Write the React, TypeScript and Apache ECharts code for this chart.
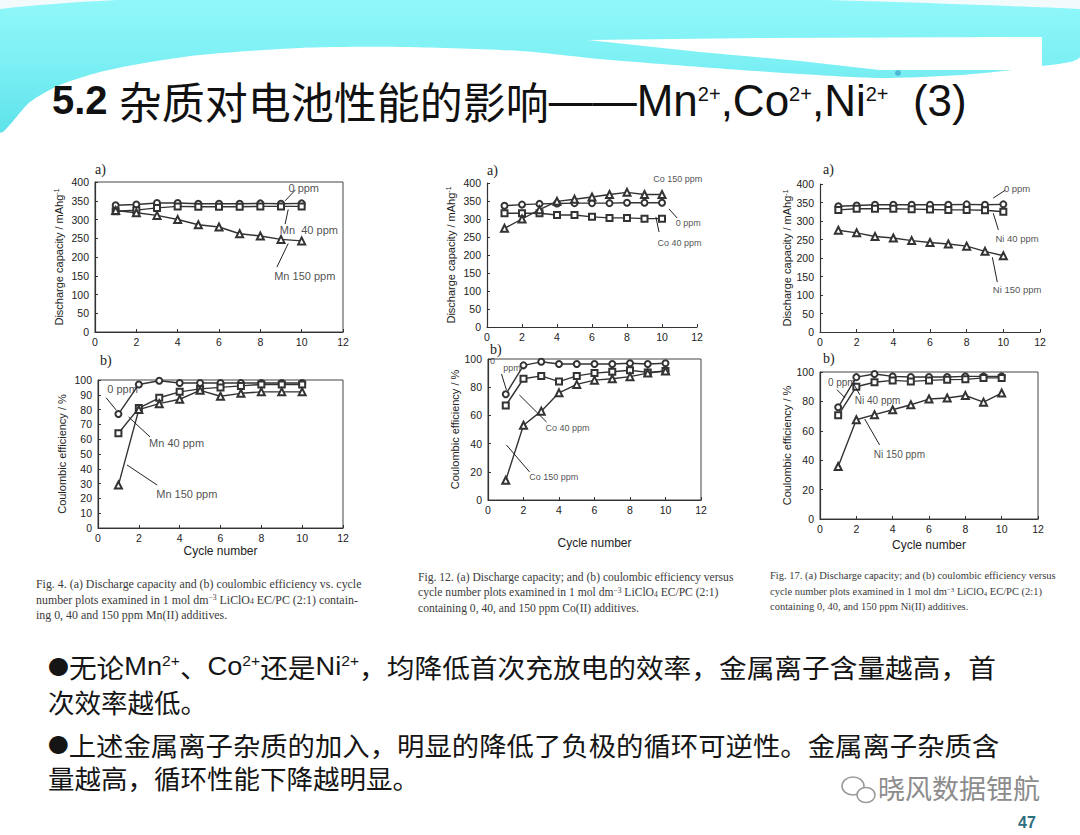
import React, { useEffect, useRef } from "react";
import * as echarts from "echarts";

// ---------- data ----------
const cycles = [1, 2, 3, 4, 5, 6, 7, 8, 9, 10];

// Mn(II)
const mnCap0 = [338, 340, 344, 344, 342, 342, 342, 343, 342, 343];
const mnCap40 = [322, 325, 331, 335, 334, 334, 334, 335, 335, 335];
const mnCap150 = [324, 318, 311, 300, 286, 280, 262, 256, 247, 243];
const mnEff0 = [77, 97, 99.5, 98, 98, 98, 98, 98, 98, 98];
const mnEff40 = [64, 81, 88, 92, 94, 95, 96, 97, 97, 97];
const mnEff150 = [29, 80, 84, 87, 93, 89, 91, 92, 92, 92];

// Co(II)
const coCap0 = [337, 340, 342, 343, 344, 344, 344, 345, 345, 345];
const coCap40 = [316, 316, 316, 311, 311, 306, 303, 303, 301, 301];
const coCap150 = [274, 300, 326, 349, 355, 361, 368, 374, 368, 368];
const coEff0 = [75, 95.5, 98, 96.5, 96.5, 96.5, 96.5, 97, 96.5, 97];
const coEff40 = [67, 86, 88, 84, 88, 90, 91, 92, 90.5, 91.5];
const coEff150 = [14, 53, 63, 76, 82, 85, 86, 87.5, 90, 91.5];

// Ni(II)
const niCap0 = [340, 342, 344, 344, 344, 344, 344, 345, 344, 345];
const niCap40 = [330, 333, 333, 333, 332, 331, 330, 330, 329, 325];
const niCap150 = [275, 268, 258, 254, 247, 242, 238, 232, 218, 206];
const niEff0 = [76, 96.5, 98.6, 97, 96.6, 96.6, 96.6, 97, 97, 97];
const niEff40 = [70.5, 90, 93, 94.3, 93.6, 94.3, 94.8, 95, 96, 96];
const niEff150 = [35.7, 67.5, 71, 74.3, 77.7, 81.6, 82.3, 84, 79.5, 85.7];

// annotations: label text, label centre, arrow tail, arrow head (data coordinates)
type Note = { text: string; at: [number, number]; from?: [number, number]; to?: [number, number]; size?: number };

const mnCapNotes: Note[] = [
  { text: "0 ppm", at: [10.1, 384], from: [9.7, 379], to: [9.2, 350] },
  { text: "Mn  40 ppm", at: [10.35, 272], from: [9.2, 288], to: [9.35, 327] },
  { text: "Mn 150 ppm", at: [10.15, 149], from: [8.8, 173], to: [9.35, 236] },
];
const mnEffNotes: Note[] = [
  { text: "0 ppm", at: [1.2, 94], from: [0.4, 88], to: [0.9, 79.5] },
  { text: "Mn 40 ppm", at: [3.85, 57.4], from: [2.55, 61.5], to: [1.5, 75] },
  { text: "Mn 150 ppm", at: [4.35, 23], from: [2.9, 29], to: [1.42, 42.6] },
];
const coCapNotes: Note[] = [
  { text: "Co 150 ppm", at: [10.9, 411], size: 9 },
  { text: "0 ppm", at: [11.5, 289], from: [10.86, 303], to: [10.4, 328], size: 9 },
  { text: "Co 40 ppm", at: [11.0, 233], from: [9.83, 264], to: [9.65, 306], size: 9 },
];
const coEffNotes: Note[] = [
  { text: "0", at: [0.25, 98.6], size: 9 },
  { text: "ppm", at: [1.35, 93.6], from: [0.76, 89.4], to: [1.04, 78], size: 9 },
  { text: "Co 40 ppm", at: [4.48, 51], from: [3.3, 55.3], to: [1.77, 74.5], size: 9 },
  { text: "Co 150 ppm", at: [3.7, 16.3], from: [2.34, 19.9], to: [1.04, 39], size: 9 },
];
const niCapNotes: Note[] = [
  { text: "0 ppm", at: [10.75, 389], from: [10.1, 383], to: [9.45, 362], size: 9.5 },
  { text: "Ni 40 ppm", at: [10.75, 254], from: [9.73, 276], to: [9.45, 321], size: 9.5 },
  { text: "Ni 150 ppm", at: [10.75, 115], from: [9.67, 135], to: [9.4, 202], size: 9.5 },
];
const niEffNotes: Note[] = [
  { text: "0 ppm", at: [1.2, 92.7], from: [0.93, 88], to: [1.37, 82.5], size: 10 },
  { text: "Ni 40 ppm", at: [3.17, 80.4], from: [2.19, 84.5], to: [1.91, 90.7], size: 10 },
  { text: "Ni 150 ppm", at: [4.37, 43.6], from: [3.28, 50.4], to: [2.46, 68], size: 10 },
];

const capTitle = "Discharge capacity / mAhg{sup|-1}";
const effTitle = "Coulombic efficiency / %";
const xTitle = "Cycle number";

const titleText =
  "{n|5.2 }{c|杂质对电池性能的影响}{l|——Mn}{s|2+}{l|,Co}{s|2+}{l|,Ni}{s|2+}{l|  (3)}";
const bullet1a = "{b|●}{c|无论}{l|Mn}{s|2+}{c|、}{l|Co}{s|2+}{c|还是}{l|Ni}{s|2+}{c|，均降低首次充放电的效率，金属离子含量越高，首}";
const bullet1b = "{c|次效率越低。}";
const bullet2a = "{b|●}{c|上述金属离子杂质的加入，明显的降低了负极的循环可逆性。金属离子杂质含}";
const bullet2b = "{c|量越高，循环性能下降越明显。}";

const caption1 = [
  "Fig. 4. (a) Discharge capacity and (b) coulombic efficiency vs. cycle",
  "number plots examined in 1 mol dm{sup|−3} LiClO{sub|4} EC/PC (2:1) contain-",
  "ing 0, 40 and 150 ppm Mn(II) additives.",
];
const caption2 = [
  "Fig. 12. (a) Discharge capacity; and (b) coulombic efficiency versus",
  "cycle number plots examined in 1 mol dm{sup|−3} LiClO{sub|4} EC/PC (2:1)",
  "containing 0, 40, and 150 ppm Co(II) additives.",
];
const caption3 = [
  "Fig. 17. (a) Discharge capacity; and (b) coulombic efficiency versus",
  "cycle number plots examined in 1 mol dm{sup|−3} LiClO{sub|4} EC/PC (2:1)",
  "containing 0, 40, and 150 ppm Ni(II) additives.",
];

const watermark = "晓风数据锂航";
const pageNo = "47";

// ---------- layout ----------
const SANS = "'Liberation Sans', Arial, 'Noto Sans CJK SC', sans-serif";
const SERIF = "'Liberation Serif', 'Times New Roman', serif";
const CJK = "'Noto Sans CJK SC', 'Liberation Sans', sans-serif";
const INK = "#222";

type Panel = {
  grid: { left: number; top: number; width: number; height: number };
  yMax: number;
  yStep: number;
  yName: string;
  yGap: number;
  xName?: string;
  xGap?: number;
  box: boolean;
  lines: number[][];
  notes: Note[];
  tag: string;
  tagPos: [number, number];
};

const panels: Panel[] = [
  { grid: { left: 95, top: 182, width: 248, height: 150 }, yMax: 400, yStep: 50, yName: capTitle, yGap: 31, box: true, lines: [mnCap0, mnCap40, mnCap150], notes: mnCapNotes, tag: "a)", tagPos: [95, 162] },
  { grid: { left: 98, top: 380, width: 245, height: 148 }, yMax: 100, yStep: 10, yName: effTitle, yGap: 31, xName: xTitle, xGap: 17, box: true, lines: [mnEff0, mnEff40, mnEff150], notes: mnEffNotes, tag: "b)", tagPos: [100, 353] },
  { grid: { left: 487, top: 183, width: 210, height: 144 }, yMax: 400, yStep: 50, yName: capTitle, yGap: 31, box: false, lines: [coCap0, coCap40, coCap150], notes: coCapNotes, tag: "a)", tagPos: [487, 163] },
  { grid: { left: 488, top: 359, width: 213, height: 141 }, yMax: 100, yStep: 20, yName: effTitle, yGap: 23, xName: xTitle, xGap: 37, box: true, lines: [coEff0, coEff40, coEff150], notes: coEffNotes, tag: "b)", tagPos: [490, 342] },
  { grid: { left: 820, top: 184, width: 220, height: 148 }, yMax: 400, yStep: 50, yName: capTitle, yGap: 27, box: false, lines: [niCap0, niCap40, niCap150], notes: niCapNotes, tag: "a)", tagPos: [823, 162] },
  { grid: { left: 820, top: 372, width: 218, height: 147 }, yMax: 100, yStep: 20, yName: effTitle, yGap: 23, xName: xTitle, xGap: 20, box: true, lines: [niEff0, niEff40, niEff150], notes: niEffNotes, tag: "b)", tagPos: [823, 351] },
];
const symbols = ["emptyCircle", "emptyRect", "emptyTriangle"];

function buildOption() {
  const grid: any[] = [];
  const xAxis: any[] = [];
  const yAxis: any[] = [];
  const series: any[] = [];
  const graphic: any[] = [];

  // ---- slide background ----
  graphic.push({ type: "rect", shape: { x: 0, y: 0, width: 1080, height: 835 }, style: { fill: "#ffffff" }, silent: true });
  graphic.push({ type: "rect", shape: { x: 0, y: 0, width: 1080, height: 10 }, style: { fill: "#f3fafc" }, silent: true });
  graphic.push({
    type: "polygon",
    silent: true,
    shape: {
      points: [
        [0, 9], [1080, 9], [1080, 57], [1042, 66], [960, 75], [880, 78], [800, 74], [700, 67], [600, 59],
        [520, 51], [400, 47], [300, 48], [200, 55], [150, 62], [100, 72], [60, 85], [30, 102], [0, 132],
      ],
      smooth: 0.25,
    },
    style: {
      fill: new echarts.graphic.LinearGradient(0, 0, 0, 1, [
        { offset: 0, color: "#92f8fa" },
        { offset: 0.5, color: "#7cf0f4" },
        { offset: 1, color: "#5ee2ea" },
      ]),
    },
  });
  graphic.push({
    type: "polygon",
    silent: true,
    shape: { points: [[588, 40], [760, 38], [1042, 37], [1042, 70], [880, 70], [800, 61], [700, 52]] },
    style: { fill: "#ffffff" },
  });
  graphic.push({ type: "circle", silent: true, shape: { cx: 898, cy: 73, r: 3 }, style: { fill: "#4fb8d6" } });

  // ---- title ----
  graphic.push({
    type: "text",
    left: 52,
    top: 78,
    silent: true,
    style: {
      text: titleText,
      fill: "#111",
      rich: {
        n: { fontFamily: SANS, fontSize: 40, fontWeight: "bold", verticalAlign: "bottom", height: 46 },
        c: { fontFamily: CJK, fontSize: 43, verticalAlign: "bottom", height: 46 },
        l: { fontFamily: SANS, fontSize: 44, verticalAlign: "bottom", height: 46 },
        s: { fontFamily: SANS, fontSize: 20, verticalAlign: "top", height: 22, padding: [6, 0, 0, 0] },
      },
    },
  });

  // ---- bullet text ----
  const bodyRich = {
    b: { fontFamily: CJK, fontSize: 20, verticalAlign: "bottom", height: 28 },
    c: { fontFamily: CJK, fontSize: 26.5, verticalAlign: "bottom", height: 28 },
    l: { fontFamily: SANS, fontSize: 26, verticalAlign: "bottom", height: 28 },
    s: { fontFamily: SANS, fontSize: 15, verticalAlign: "top", height: 15, padding: [1, 0, 0, 0] },
  };
  // first lines of each paragraph are justified to the right margin, as in the slide
  graphic.push({ type: "text", left: 48, top: 653, scaleX: 1.045, silent: true, style: { text: bullet1a, fill: "#151515", rich: bodyRich } });
  graphic.push({ type: "text", left: 48, top: 688, silent: true, style: { text: bullet1b, fill: "#151515", rich: bodyRich } });
  graphic.push({ type: "text", left: 48, top: 731, scaleX: 1.033, silent: true, style: { text: bullet2a, fill: "#151515", rich: bodyRich } });
  graphic.push({ type: "text", left: 48, top: 764, silent: true, style: { text: bullet2b, fill: "#151515", rich: bodyRich } });

  // ---- watermark & page number ----
  graphic.push({ type: "ellipse", silent: true, shape: { cx: 853, cy: 786, rx: 11, ry: 9 }, style: { fill: "none", stroke: "#9a9a9a", lineWidth: 1.6 } });
  graphic.push({ type: "ellipse", silent: true, shape: { cx: 866, cy: 795, rx: 9, ry: 7.5 }, style: { fill: "#fff", stroke: "#9a9a9a", lineWidth: 1.6 } });
  graphic.push({ type: "text", left: 878, top: 774, silent: true, style: { text: watermark, fill: "#8c8c8c", font: `27px ${CJK}` } });
  graphic.push({ type: "text", left: 1018, top: 814, silent: true, style: { text: pageNo, fill: "#2f6f7e", font: `bold 16px ${SANS}` } });

  // ---- captions ----
  const caps: [string[], number, number, number][] = [
    [caption1, 36, 578, 11.9],
    [caption2, 418, 571, 11.6],
    [caption3, 770, 570, 10.5],
  ];
  caps.forEach(([lines, x, y, fs]) => {
    const capRich = {
      sup: { fontSize: fs * 0.65, verticalAlign: "top", fontFamily: SERIF },
      sub: { fontSize: fs * 0.65, verticalAlign: "bottom", fontFamily: SERIF },
    };
    lines.forEach((t, i) => {
      graphic.push({
        type: "text",
        left: x,
        top: y + i * 15.5,
        silent: true,
        style: { text: t, fill: "#3a3a3a", font: `${fs}px ${SERIF}`, rich: capRich },
      });
    });
  });

  // ---- panels ----
  panels.forEach((p, i) => {
    grid.push({ ...p.grid, show: p.box, borderColor: "#444", borderWidth: 1, backgroundColor: "transparent" });
    graphic.push({ type: "text", left: p.tagPos[0], top: p.tagPos[1], silent: true, style: { text: p.tag, fill: "#222", font: `14px ${SERIF}` } });
    xAxis.push({
      type: "value",
      gridIndex: i,
      min: 0,
      max: 12,
      interval: 2,
      name: p.xName || "",
      nameLocation: "middle",
      nameGap: p.xGap || 20,
      nameTextStyle: { fontFamily: SANS, fontSize: 12, color: INK },
      axisLine: { show: true, onZero: false, lineStyle: { color: "#333", width: 1.2 } },
      axisTick: { show: true, inside: true, length: 3, lineStyle: { color: "#333" } },
      axisLabel: { fontFamily: SANS, fontSize: 10.5, color: INK, margin: 5 },
      splitLine: { show: false },
    });
    yAxis.push({
      type: "value",
      gridIndex: i,
      min: 0,
      max: p.yMax,
      interval: p.yStep,
      name: p.yName,
      nameLocation: "middle",
      nameRotate: 90,
      nameGap: p.yGap,
      nameTextStyle: {
        fontFamily: SANS,
        fontSize: 11,
        color: INK,
        rich: { sup: { fontFamily: SANS, fontSize: 7, verticalAlign: "top", color: INK } },
      },
      axisLine: { show: true, onZero: false, lineStyle: { color: "#333", width: 1.2 } },
      axisTick: { show: true, inside: true, length: 3, lineStyle: { color: "#333" } },
      axisLabel: { fontFamily: SANS, fontSize: 10.5, color: INK, margin: 6 },
      splitLine: { show: false },
    });
    p.lines.forEach((vals, k) => {
      series.push({
        type: "line",
        xAxisIndex: i,
        yAxisIndex: i,
        data: cycles.map((c, j) => [c, vals[j]]),
        symbol: symbols[k],
        symbolSize: k === 2 ? 7 : 6,
        showSymbol: true,
        lineStyle: { color: "#333", width: 1.4 },
        itemStyle: { color: "#333", borderWidth: 1 },
        silent: true,
        z: 3,
      });
    });
    // annotation labels + arrows
    series.push({
      type: "scatter",
      xAxisIndex: i,
      yAxisIndex: i,
      clip: false,
      silent: true,
      symbolSize: 0,
      data: p.notes.map((n) => ({ value: [n.at[0], n.at[1]], name: n.text, label: { fontSize: n.size || 11 } })),
      label: {
        show: true,
        position: "inside",
        color: "#222",
        fontFamily: SANS,
        formatter: (d: any) => d.name,
      },
      markLine: {
        silent: true,
        symbol: ["none", "arrow"],
        symbolSize: [0, 6],
        label: { show: false },
        lineStyle: { color: "#222", width: 1, type: "solid" },
        data: p.notes
          .filter((n) => n.from && n.to)
          .map((n) => [{ coord: n.from }, { coord: n.to }]),
      },
      z: 5,
    });
  });

  graphic.forEach((g: any) => { if (g.z === undefined) g.z = -1; });

  return {
    animation: false,
    backgroundColor: "#ffffff",
    grid,
    xAxis,
    yAxis,
    series,
    graphic: { elements: graphic },
  };
}

export default function App() {
  const ref = useRef<HTMLDivElement>(null);
  useEffect(() => {
    document.body.style.margin = "0";
    const chart = echarts.init(ref.current!, undefined, { renderer: "svg" });
    chart.setOption(buildOption() as any);
    return () => chart.dispose();
  }, []);
  return <div ref={ref} style={{ position: "absolute", left: 0, top: 0, width: 1080, height: 835 }} />;
}
